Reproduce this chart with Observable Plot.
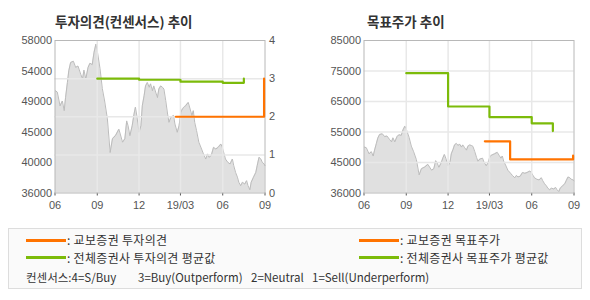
<!DOCTYPE html>
<html><head><meta charset="utf-8">
<script src="https://cdn.jsdelivr.net/npm/d3@7"></script>
<script src="https://cdn.jsdelivr.net/npm/@observablehq/plot@0.6"></script>
<style>
body{margin:0;background:#fff;width:590px;height:300px;position:relative;overflow:hidden;font-family:"Noto Sans CJK KR",sans-serif;}
.abs{position:absolute;white-space:pre;}
.title{font-weight:bold;font-size:13.5px;color:#333;line-height:16px;}
.lg{font-size:12px;color:#333;line-height:14px;letter-spacing:0.3px;}
.cs{font-size:11.5px;color:#333;line-height:14px;}
.sw{position:absolute;height:3px;width:40px;}
svg{position:absolute;top:0;}
</style></head>
<body>
<script>
// ---------- data ----------
const xDomain = ["2018-06-01","2019-09-01"];
const xTickDates = ["2018-06-01","2018-09-01","2018-12-01","2019-03-01","2019-06-01","2019-09-01"];
const xTickLabels = ["06","09","12","19/03","06","09"];
const leftPriceTicks = [36000,40400,44800,49200,53600,58000];
const leftPriceLabels = ["36000","40000","45000","49000","54000","58000"];
const opinionTicks = [0,1,2,3,4];
const opinionGrid = [1,2,3];
const rightPriceTicks = [36000,45800,55600,65400,75200,85000];
const rightPriceLabels = ["36000","45000","55000","65000","75000","85000"];

const priceDates = ["2018-06-02","2018-06-06","2018-06-12","2018-06-17","2018-06-21","2018-06-24","2018-06-28","2018-07-01","2018-07-05","2018-07-11","2018-07-16","2018-07-21","2018-07-27","2018-07-31","2018-08-03","2018-08-07","2018-08-12","2018-08-16","2018-08-21","2018-08-25","2018-08-29","2018-09-01","2018-09-07","2018-09-12","2018-09-17","2018-09-23","2018-09-29","2018-10-04","2018-10-11","2018-10-18","2018-10-26","2018-10-31","2018-11-04","2018-11-07","2018-11-11","2018-11-16","2018-11-20","2018-11-23","2018-11-26","2018-12-01","2018-12-05","2018-12-08","2018-12-12","2018-12-15","2018-12-19","2018-12-23","2018-12-26","2018-12-30","2019-01-02","2019-01-06","2019-01-10","2019-01-13","2019-01-17","2019-01-21","2019-01-24","2019-01-28","2019-02-01","2019-02-04","2019-02-08","2019-02-14","2019-02-17","2019-02-22","2019-02-26","2019-03-02","2019-03-05","2019-03-09","2019-03-12","2019-03-18","2019-03-22","2019-03-26","2019-03-29","2019-04-01","2019-04-05","2019-04-10","2019-04-16","2019-04-20","2019-04-25","2019-04-29","2019-05-02","2019-05-07","2019-05-12","2019-05-17","2019-05-22","2019-05-28","2019-05-31","2019-06-04","2019-06-07","2019-06-12","2019-06-17","2019-06-22","2019-06-25","2019-06-29","2019-07-03","2019-07-06","2019-07-10","2019-07-14","2019-07-19","2019-07-23","2019-07-26","2019-07-30","2019-08-02","2019-08-07","2019-08-12","2019-08-15","2019-08-19","2019-08-23","2019-08-26","2019-08-30","2019-09-01"];
const priceValues = [50750,50560,48580,49270,47880,49770,51940,53630,54820,55010,54120,54320,53130,52440,53730,52440,54120,54720,54520,56300,57490,56500,53930,51050,49270,46700,41840,43820,44320,45210,43330,43820,46400,45700,44270,45700,47390,48380,47190,44760,45700,48580,50060,51450,51940,51250,51750,50760,51450,50560,49770,51000,51450,51250,51000,49320,47390,46200,46890,47190,45950,44760,45700,47640,48120,48380,48580,49070,48120,47190,47880,46200,45010,43330,42340,41640,40900,41640,41150,41400,42590,42340,42590,43070,42590,41640,40900,40430,40190,40900,39940,38970,38280,37550,37060,37550,37290,37780,37060,36470,37550,38280,38970,39940,41150,40900,40430,40190,39940];

const kyoboOpinionDates = ["2019-02-19","2019-08-30"];
const kyoboOpinionValues = [2,3];
const avgOpinionDates = ["2018-09-01","2018-12-01","2019-03-01","2019-06-01","2019-07-17"];
const avgOpinionValues = [3.0,2.97,2.92,2.89,3.0];
const kyoboTargetDates = ["2019-02-19","2019-04-15","2019-08-30"];
const kyoboTargetValues = [52600,46800,48000];
const avgTargetDates = ["2018-09-01","2018-12-01","2019-03-01","2019-06-01","2019-07-17"];
const avgTargetValues = [74500,63800,60400,58400,55900];

const titles = ["투자의견(컨센서스) 추이","목표주가 추이"];
const legendLabels = [": 교보증권 투자의견",": 전체증권사 투자의견 평균값",": 교보증권 목표주가",": 전체증권사 목표주가 평균값"];
const consensusLabels = ["컨센서스:4=S/Buy","3=Buy(Outperform)","2=Neutral","1=Sell(Underperform)"];

// ---------- build ----------
const ORANGE = "#ff7300", GREEN = "#7cbb0a";
const pd = s => new Date(s + "T00:00:00Z");
const price = priceDates.map((d,i)=>({date:pd(d), value:priceValues[i]}));
const zip = (ds,vs)=>ds.map((d,i)=>({date:pd(d), value:vs[i]}));
const kyoboOp = zip(kyoboOpinionDates,kyoboOpinionValues);
const avgOp = zip(avgOpinionDates,avgOpinionValues);
const kyoboTg = zip(kyoboTargetDates,kyoboTargetValues);
const avgTg = zip(avgTargetDates,avgTargetValues);
const xTicks = xTickDates.map(pd);
const xLab = new Map(xTicks.map((d,i)=>[+d, xTickLabels[i]]));
const lpLab = new Map(leftPriceTicks.map((d,i)=>[d,leftPriceLabels[i]]));
const rpLab = new Map(rightPriceTicks.map((d,i)=>[d,rightPriceLabels[i]]));
const xInner = xTicks.slice(1,-1);
const GRID = "#e8e8e8", FRAME = "#b8b8b8";
const baseStyle = {fontSize:"11px", fontFamily:"'Liberation Sans', Arial, sans-serif", color:"#555", background:"transparent", overflow:"visible"};

const xOpt = {type:"utc", domain:xDomain.map(pd), ticks:xTicks, tickFormat:d=>xLab.get(+d), tickSize:3, tickPadding:5, label:null};
const dims = {width:295, height:215, marginLeft:54.5, marginRight:30.5, marginTop:40, marginBottom:22.5};

// left chart: price layer
const leftBase = Plot.plot({
  ...dims, style:baseStyle,
  x:xOpt,
  y:{domain:[36000,58000], ticks:leftPriceTicks, tickFormat:d=>lpLab.get(d), tickSize:0, tickPadding:3, label:null},
  marks:[
    Plot.areaY(price,{x:"date", y1:36000, y2:"value", fill:"#e0e0e0"}),
    Plot.line(price,{x:"date", y:"value", stroke:"#bcbcbc", strokeWidth:1})
  ]
});
// left chart: opinion layer (right axis)
const leftOver = Plot.plot({
  ...dims, style:baseStyle,
  x:{...xOpt, axis:null},
  y:{domain:[0,4], ticks:opinionTicks, tickFormat:d=>String(d), axis:"right", tickSize:0, tickPadding:4, label:null},
  marks:[
    Plot.ruleX(xInner,{stroke:GRID, strokeWidth:1.5}),
    Plot.ruleY(opinionGrid,{stroke:GRID, strokeWidth:1.5}),
    Plot.frame({stroke:FRAME}),
    Plot.line(avgOp,{x:"date", y:"value", stroke:GREEN, strokeWidth:2.2, curve:"step-after"}),
    Plot.line(kyoboOp,{x:"date", y:"value", stroke:ORANGE, strokeWidth:2.2, curve:"step-after"})
  ]
});
// right chart
const right = Plot.plot({
  width:290, height:215, marginLeft:63.5, marginRight:16.5, marginTop:40, marginBottom:22.5,
  style:baseStyle,
  x:xOpt,
  y:{domain:[36000,85000], ticks:rightPriceTicks, tickFormat:d=>rpLab.get(d), tickSize:0, tickPadding:3, label:null},
  marks:[
    Plot.areaY(price,{x:"date", y1:36000, y2:"value", fill:"#e0e0e0"}),
    Plot.line(price,{x:"date", y:"value", stroke:"#bcbcbc", strokeWidth:1}),
    Plot.ruleX(xInner,{stroke:GRID, strokeWidth:1.5}),
    Plot.ruleY(rightPriceTicks.slice(1,-1),{stroke:GRID, strokeWidth:1.5}),
    Plot.frame({stroke:FRAME}),
    Plot.line(avgTg,{x:"date", y:"value", stroke:GREEN, strokeWidth:2.2, curve:"step-after"}),
    Plot.line(kyoboTg,{x:"date", y:"value", stroke:ORANGE, strokeWidth:2.2, curve:"step-after"})
  ]
});
leftBase.style.left = "0px"; leftOver.style.left = "0px"; right.style.left = "300px";
document.body.append(leftBase, leftOver, right);

// titles
function addDiv(cls, text, left, top){
  const d = document.createElement("div"); d.className = "abs " + cls; d.textContent = text;
  d.style.left = left + "px"; d.style.top = top + "px"; document.body.append(d); return d;
}
addDiv("title", titles[0], 55, 13);
addDiv("title", titles[1], 367, 13);

// legend
const box = document.createElement("div");
Object.assign(box.style,{position:"absolute", left:"8px", top:"228px", width:"572px", height:"59px", border:"1px solid #dddddd", background:"#fafafa"});
document.body.append(box);
function swatch(color, left, cy){
  const s = document.createElement("div"); s.className="sw"; s.style.background=color;
  s.style.left = left+"px"; s.style.top = (cy-1.5)+"px"; document.body.append(s);
}
swatch(ORANGE, 26, 240); addDiv("lg", legendLabels[0], 67, 233);
swatch(GREEN, 26, 257.5); addDiv("lg", legendLabels[1], 67, 250.5);
swatch(ORANGE, 359, 240); addDiv("lg", legendLabels[2], 400, 233);
swatch(GREEN, 359, 257.5); addDiv("lg", legendLabels[3], 400, 250.5);
const cx = [26, 138, 251, 312];
consensusLabels.forEach((t,i)=>addDiv("cs", t, cx[i], 269.5));
</script>
</body></html>
